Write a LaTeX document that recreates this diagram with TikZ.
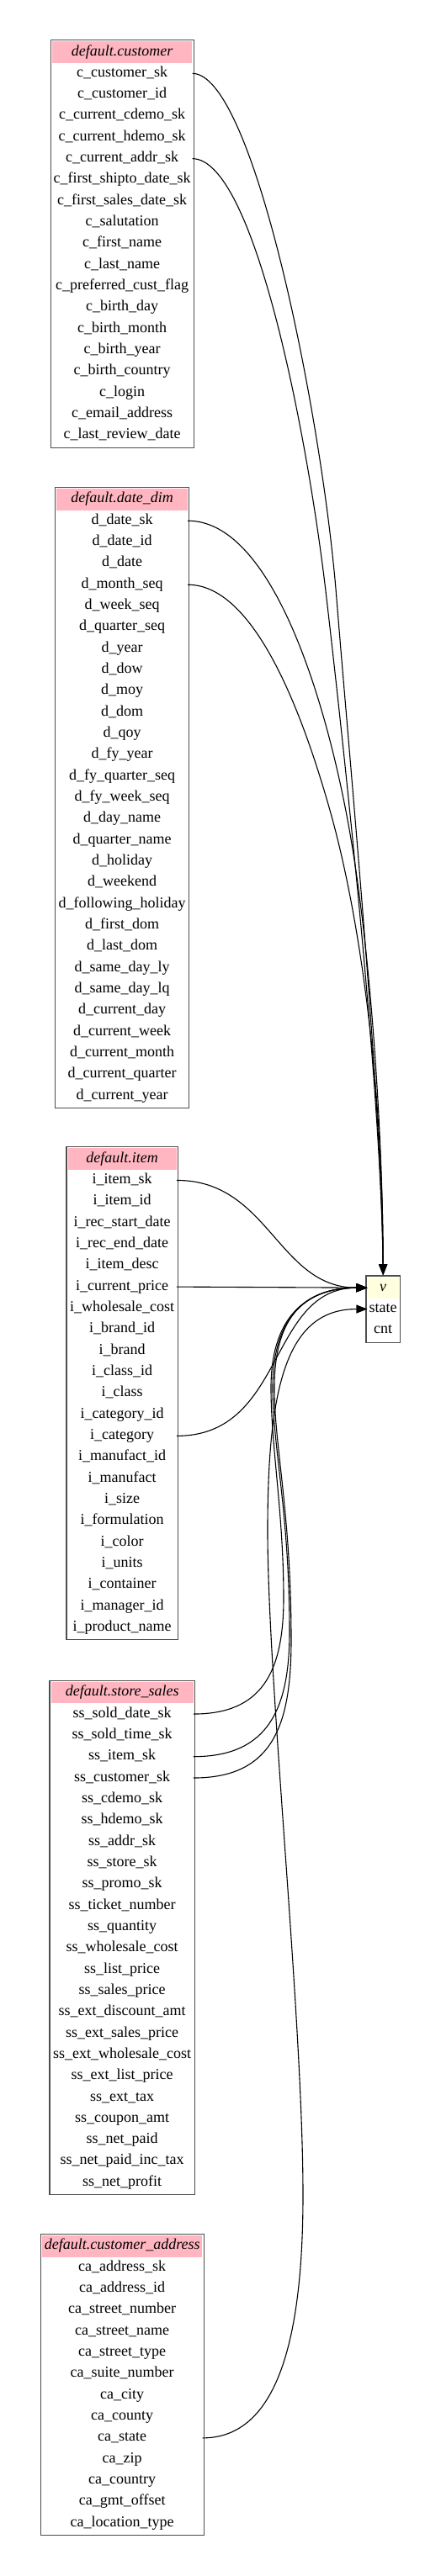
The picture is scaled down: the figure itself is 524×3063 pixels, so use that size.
\documentclass[tikz,border=0pt]{standalone}
\usepackage{fontspec}
\setmainfont{Liberation Serif}
\usetikzlibrary{arrows.meta,fit,calc}
\definecolor{hdrpink}{HTML}{FFB6C1}
\definecolor{hdryellow}{HTML}{FFFFE0}
\definecolor{bordergray}{HTML}{4D4D4D}
\tikzset{
  cellbase/.style={inner sep=0pt, minimum height=25.33pt, text height=12.5pt, text depth=4.5pt,
    font=\fontsize{18}{22}\selectfont, anchor=center},
  rowcell/.style={cellbase},
  hdrcell/.style={cellbase},
  tblbox/.style={draw=bordergray, line width=1.3pt, inner sep=1.5pt},
  fkedge/.style={draw=black, line width=1.1pt, -{Triangle[length=13pt,width=10pt]}},
}
% #1 name, #2 centre x, #3 header y, #4 cell width, #5 header text, #6 number of rows, #7 rows, #8 header colour
\newcommand\dbtable[8]{%
  \node[hdrcell, fill=#8, minimum width=#4] (#1-0) at (#2,#3) {\textit{#5}};
  \foreach \r [count=\i] in {#7} {
    \node[rowcell, minimum width=#4] (#1-\i) at ({#2},{#3+\i*25.33}) {\r};
  }
  \node[tblbox, fit=(#1-0)(#1-#6)] (#1) {};
}
\begin{document}
\begin{tikzpicture}[x=1pt,y=-1pt]
\useasboundingbox (0,0) rectangle (524,3063);

\dbtable{cust}{145.2}{62.0}{166.5pt}{default.customer}{18}{c\_customer\_sk,c\_customer\_id,c\_current\_cdemo\_sk,c\_current\_hdemo\_sk,c\_current\_addr\_sk,c\_first\_shipto\_date\_sk,c\_first\_sales\_date\_sk,c\_salutation,c\_first\_name,c\_last\_name,c\_preferred\_cust\_flag,c\_birth\_day,c\_birth\_month,c\_birth\_year,c\_birth\_country,c\_login,c\_email\_address,c\_last\_review\_date}{hdrpink}

\dbtable{date}{145.2}{593.9}{155.7pt}{default.date\_dim}{28}{d\_date\_sk,d\_date\_id,d\_date,d\_month\_seq,d\_week\_seq,d\_quarter\_seq,d\_year,d\_dow,d\_moy,d\_dom,d\_qoy,d\_fy\_year,d\_fy\_quarter\_seq,d\_fy\_week\_seq,d\_day\_name,d\_quarter\_name,d\_holiday,d\_weekend,d\_following\_holiday,d\_first\_dom,d\_last\_dom,d\_same\_day\_ly,d\_same\_day\_lq,d\_current\_day,d\_current\_week,d\_current\_month,d\_current\_quarter,d\_current\_year}{hdrpink}

\dbtable{item}{145.2}{1378.1}{129.1pt}{default.item}{22}{i\_item\_sk,i\_item\_id,i\_rec\_start\_date,i\_rec\_end\_date,i\_item\_desc,i\_current\_price,i\_wholesale\_cost,i\_brand\_id,i\_brand,i\_class\_id,i\_class,i\_category\_id,i\_category,i\_manufact\_id,i\_manufact,i\_size,i\_formulation,i\_color,i\_units,i\_container,i\_manager\_id,i\_product\_name}{hdrpink}

\dbtable{ss}{145.2}{2012.7}{169.1pt}{default.store\_sales}{23}{ss\_sold\_date\_sk,ss\_sold\_time\_sk,ss\_item\_sk,ss\_customer\_sk,ss\_cdemo\_sk,ss\_hdemo\_sk,ss\_addr\_sk,ss\_store\_sk,ss\_promo\_sk,ss\_ticket\_number,ss\_quantity,ss\_wholesale\_cost,ss\_list\_price,ss\_sales\_price,ss\_ext\_discount\_amt,ss\_ext\_sales\_price,ss\_ext\_wholesale\_cost,ss\_ext\_list\_price,ss\_ext\_tax,ss\_coupon\_amt,ss\_net\_paid,ss\_net\_paid\_inc\_tax,ss\_net\_profit}{hdrpink}

\dbtable{ca}{145.2}{2670.9}{190.5pt}{default.customer\_address}{13}{ca\_address\_sk,ca\_address\_id,ca\_street\_number,ca\_street\_name,ca\_street\_type,ca\_suite\_number,ca\_city,ca\_county,ca\_state,ca\_zip,ca\_country,ca\_gmt\_offset,ca\_location\_type}{hdrpink}

\dbtable{v}{455.2}{1531.2}{37.1pt}{v}{2}{state,cnt}{hdryellow}

% edges into the top of v
\draw[fkedge] (cust-1.east) .. controls (300,87.3) and (380,480) .. (399,700)
  .. controls (415,900) and (453,1300) .. (v.north);
\draw[fkedge] (cust-5.east) .. controls (300,188.7) and (362.7,500) .. (386.7,700)
  .. controls (410,900) and (453,1300) .. (v.north);
\draw[fkedge] (date-1.east) .. controls (320,619.2) and (383,818) .. (411.7,968)
  .. controls (440,1115) and (455,1350) .. (v.north);
\draw[fkedge] (date-4.east) .. controls (300,695.2) and (357,838) .. (393.3,968)
  .. controls (430,1100) and (455,1300) .. (v.north);

% edges into the header of v
\draw[fkedge] (item-1.east) .. controls (320,1403.4) and (330,1531.2) .. (v-0.west);
\draw[fkedge] (item-6.east) -- (v-0.west);
\draw[fkedge] (item-13.east) .. controls (340,1707.4) and (318,1531.2) .. (v-0.west);

\draw[fkedge] (ss-1.east) .. controls (310,2038) and (337,1990) .. (337,1900)
  .. controls (337,1800) and (322,1720) .. (322,1650)
  .. controls (322,1570) and (360,1531.2) .. (v-0.west);
\draw[fkedge] (ss-3.east) .. controls (320,2088.7) and (344,2030) .. (344,1940)
  .. controls (344,1800) and (324,1720) .. (324,1650)
  .. controls (324,1570) and (360,1531.2) .. (v-0.west);
\draw[fkedge] (ss-4.east) .. controls (325,2114) and (346,2050) .. (346,1950)
  .. controls (346,1800) and (326,1720) .. (326,1650)
  .. controls (326,1565) and (362,1531.2) .. (v-0.west);

% edge into state
\draw[fkedge] (ca-9.east) .. controls (330,2898.9) and (360,2780) .. (360,2610)
  .. controls (360,2400) and (318,2000) .. (318,1820)
  .. controls (318,1650) and (340,1556.5) .. (v-1.west);
\end{tikzpicture}
\end{document}
